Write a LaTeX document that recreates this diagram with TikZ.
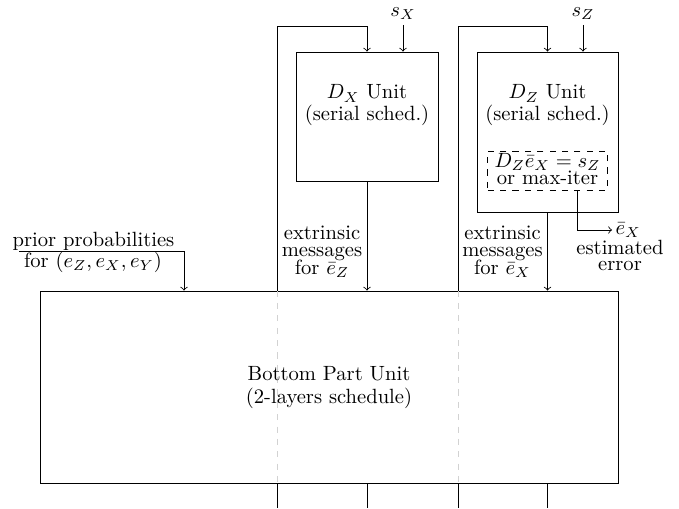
\documentclass[tikz,border=0pt]{standalone}
\begin{document}
\tikzset{
  box/.style={draw, inner sep=0pt},
  txt/.style={inner sep=0pt, anchor=base},
  sep/.style={draw=gray!35, dashed},
}
\begin{tikzpicture}[x=0.4854pt,y=-0.4854pt]
\useasboundingbox (0,0) rectangle (679,508);
\coordinate (floor) at (0,508);
% bottom unit
\node[box, minimum width=280.56pt, minimum height=93.2pt] (bot) at (329,387) {};
% guide lines through the bottom unit (drawn first, under text)
\coordinate (l1) at (277,26);
\coordinate (l2) at (458,26);
\draw[sep] (l1 |- bot.north) -- (l1 |- bot.south);
\draw[sep] (l2 |- bot.north) -- (l2 |- bot.south);
\node[txt] (bt1) at (329,380) {Bottom Part Unit};
\node[txt] (bt2) at (329,403) {(2-layers schedule)};
% D_X unit
\node[box, minimum width=68.93pt, minimum height=62.6pt] (dx) at (367,116.5) {};
\node[txt] (dx1) at (367,99) {$D_X$ Unit};
\node[txt] (dx2) at (367,120) {(serial sched.)};
% D_Z unit
\node[box, minimum width=68.44pt, minimum height=77.66pt] (dz) at (547.5,132) {};
\node[txt] (dz1) at (547.5,99) {$D_Z$ Unit};
\node[txt] (dz2) at (547.5,120) {(serial sched.)};
\node[box, dashed, minimum width=58pt, minimum height=19pt] (db) at (547.5,170.5) {};
\node[txt] (db1) at (547.5,167) {$D_Z\bar e_X = s_Z$};
\node[txt] (db2) at (547.5,184) {or max-iter};
% syndromes
\node[anchor=south, inner sep=2.5pt] (sx) at (403,25) {$s_X$};
\node[anchor=south, inner sep=2.5pt] (sz) at (583,25) {$s_Z$};
\draw[->] (sx) -- (sx |- dx.north);
\draw[->] (sz) -- (sz |- dz.north);
% feedback loops
\draw[->] (l1 |- bot.north) -- (l1) -| (dx.north);
\draw (l1 |- bot.south) -- (l1 |- floor);
\draw[->] (l2 |- bot.north) -- (l2) -| (dz.north);
\draw (l2 |- bot.south) -- (l2 |- floor);
% outputs of the units
\draw[->] (dx.south) -- (dx.south |- bot.north);
\draw (dx.south |- bot.south) -- (dx.south |- floor);
\draw[->] (dz.south) -- (dz.south |- bot.north);
\draw (dz.south |- bot.south) -- (dz.south |- floor);
% labels of extrinsic messages
\node[txt] (xa1) at (322,239) {extrinsic};
\node[txt] (xa2) at (322,256.5) {messages};
\node[txt] (xa3) at (322,274) {for $\bar e_Z$};
\node[txt] (xb1) at (502.5,239) {extrinsic};
\node[txt] (xb2) at (502.5,256.5) {messages};
\node[txt] (xb3) at (502.5,274) {for $\bar e_X$};
% prior probabilities
\node[txt] (pr1) at (93.5,246) {prior probabilities};
\node[txt] (pr2) at (93,267) {for $(e_Z,e_X,e_Y)$};
\coordinate (ps) at (19,251);
\coordinate (pc) at (184,0);
\draw[->] (ps) -| (pc |- bot.north);
% estimated error
\coordinate (ec) at (577,0);
\node[anchor=west, inner sep=1.5pt] (ex) at (612,230) {$\bar e_X$};
\draw[->] (db.south -| ec) |- (ex);
\node[txt] (es1) at (620,254) {estimated};
\node[txt] (es2) at (620,270) {error};
\end{tikzpicture}
\end{document}
